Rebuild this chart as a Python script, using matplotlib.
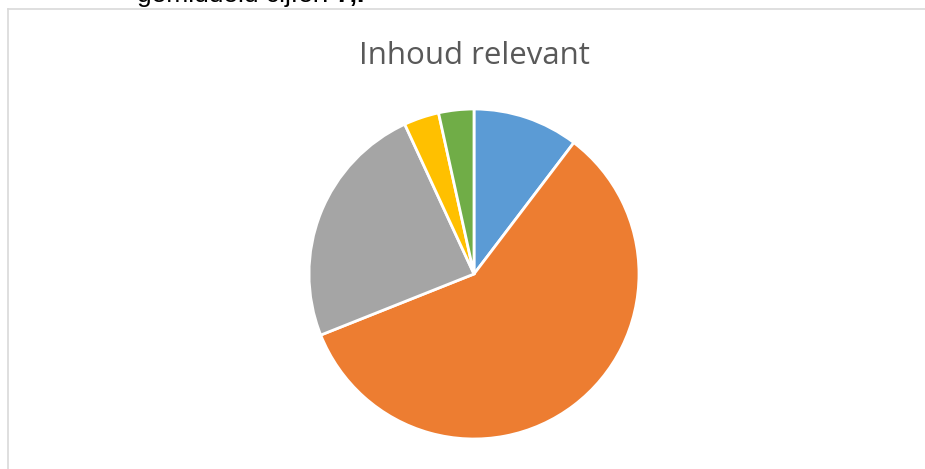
import matplotlib
matplotlib.use('Agg')
import matplotlib.pyplot as plt
from matplotlib.lines import Line2D

# answers (counts) per category, clockwise from 12 o'clock
labels = ['A', 'B', 'C', 'D', 'E']
counts = [3, 17, 7, 1, 1]
colors = ['#5B9BD5', '#ED7D31', '#A5A5A5', '#FFC000', '#70AD47']
title = 'Inhoud relevant'
above_text = 'gemiddeld cijfer: '
above_bold = '7,.'


def main():
    W, H = 925, 469
    fig = plt.figure(figsize=(W / 100, H / 100), dpi=100)
    fig.patch.set_facecolor('white')

    # chart frame (only left and top edges visible)
    fig.add_artist(Line2D([7.5 / W, 7.5 / W], [0, 1 - 9.5 / H], color='#d9d9d9', lw=1.2))
    fig.add_artist(Line2D([7.5 / W, 1], [1 - 9.5 / H, 1 - 9.5 / H], color='#d9d9d9', lw=1.2))

    # text from document above, cut off at top
    t = fig.text(137 / W, 1 - 2 / H, above_text, fontsize=19, family='Liberation Sans',
                 color='black', va='baseline', ha='left')
    fig.canvas.draw()
    bb = t.get_window_extent()
    fig.text(bb.x1 / W, 1 - 2 / H, above_bold, fontsize=19, family='Liberation Sans',
             fontweight='bold', color='black', va='baseline', ha='left')

    fig.text(474 / W, 1 - 56 / H, title, fontsize=22.5, family='Open Sans',
             color='#595959', ha='center', va='center')

    cx, cy, r = 474, 274, 165
    ax = fig.add_axes([(cx - r) / W, 1 - (cy + r) / H, 2 * r / W, 2 * r / H])
    ax.pie(counts, colors=colors, startangle=90, counterclock=False, radius=1,
           wedgeprops=dict(edgecolor='white', linewidth=2))
    ax.set_xlim(-1, 1)
    ax.set_ylim(-1, 1)
    ax.set_aspect('equal')
    ax.axis('off')

    fig.savefig('out.png', dpi=100)


if __name__ == '__main__':
    main()
